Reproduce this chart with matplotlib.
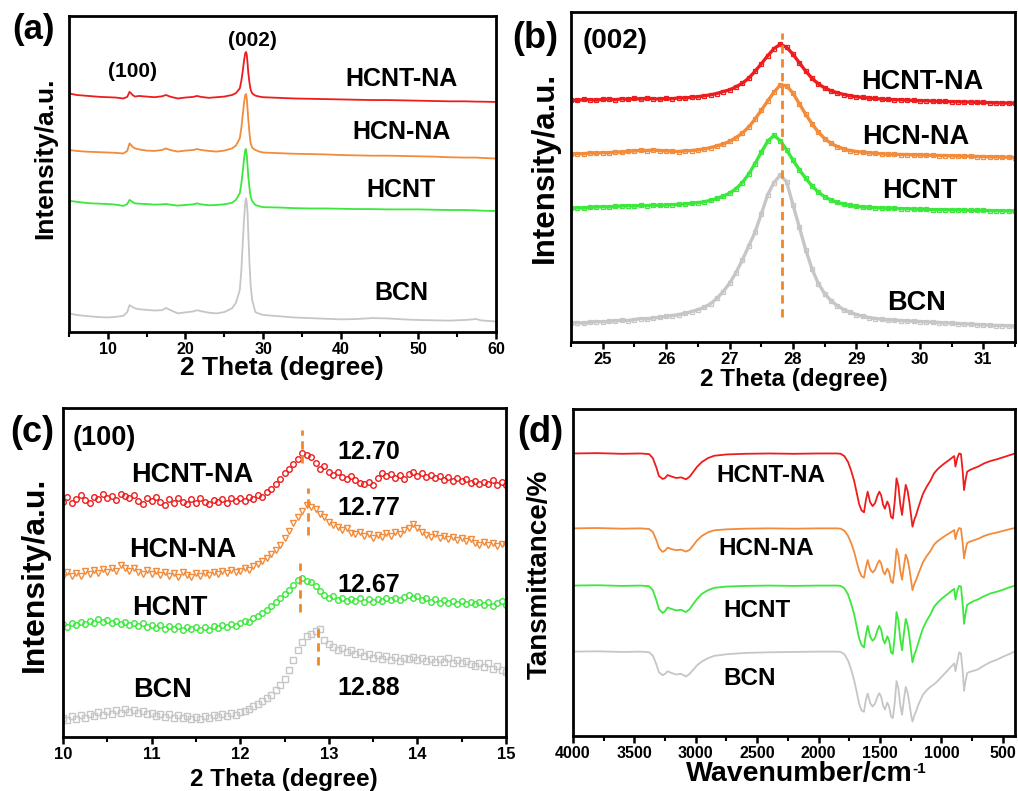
import matplotlib.pyplot as plt
from matplotlib.ticker import MultipleLocator

plt.rcParams['font.family'] = ['Liberation Sans', 'DejaVu Sans']
plt.rcParams['font.weight'] = 'bold'

W, H = 1018, 791
names = ["HCNT-NA", "HCN-NA", "HCNT", "BCN"]
colors = ["#ee1c1c", "#f28b3a", "#3be83b", "#c6c6c6"]
dash_color = "#f0882a"

# ---------------- (a) XRD wide scan ----------------
a_x = [5, 6, 7, 8, 9, 10, 11, 12, 12.5, 12.8, 13.2, 13.5, 14, 15, 16, 17, 17.5, 18, 19, 20,
       21, 21.5, 22, 23, 24, 25, 26, 26.5, 27, 27.2, 27.4, 27.55, 27.7, 27.8, 27.9, 28.0, 28.1,
       28.25, 28.4, 28.6, 29, 29.5, 30, 32, 34, 36, 38, 40, 42, 44, 46, 48, 50, 52, 54, 56, 57.5, 58, 60]
a_hcntna = [75.5, 75.0, 74.8, 74.6, 74.4, 74.3, 74.2, 73.9, 74.4, 76.0, 75.0, 74.5, 74.7, 74.5, 74.3, 74.6, 75.0, 74.5, 73.9, 74.2,
            74.4, 74.7, 74.4, 74.1, 74.3, 74.5, 75.0, 75.6, 77.1, 79.5, 82.9, 86.0, 88.2, 88.6, 87.7, 85.0, 81.9,
            78.8, 76.6, 75.5, 74.8, 74.5, 74.3, 74.1, 73.9, 73.8, 73.7, 73.6, 73.5, 73.4, 73.4, 73.3, 73.2, 73.1, 73.0, 73.0, 72.9, 72.9, 72.8]
a_hcnna = [57.6, 57.3, 57.1, 57.0, 56.9, 56.8, 56.7, 56.5, 57.3, 59.7, 58.6, 58.1, 57.8, 57.4, 57.3, 57.6, 58.1, 57.6, 57.1, 57.4,
           57.6, 57.9, 57.6, 57.3, 57.1, 57.4, 58.1, 59.0, 61.3, 64.6, 69.2, 72.6, 75.0, 75.3, 73.9, 70.5, 67.1,
           62.8, 59.7, 58.3, 57.6, 57.1, 56.8, 56.6, 56.4, 56.3, 56.2, 56.0, 55.9, 55.8, 55.8, 55.7, 55.6, 55.5, 55.3, 55.2, 55.2, 55.1, 54.9]
a_hcnt = [41.5, 41.2, 40.9, 40.7, 40.6, 40.5, 40.3, 39.9, 40.5, 41.8, 41.1, 40.7, 40.6, 40.5, 40.3, 40.4, 40.5, 40.3, 40.0, 40.2,
          40.4, 40.7, 40.4, 40.1, 40.2, 40.4, 40.9, 41.8, 43.9, 47.0, 51.3, 54.8, 57.6, 57.9, 56.0, 52.4, 49.1,
          45.5, 42.8, 41.4, 40.2, 39.8, 39.5, 39.4, 39.2, 39.1, 39.1, 39.0, 38.9, 38.9, 38.8, 38.8, 38.8, 38.7, 38.6, 38.6, 38.5, 38.4, 38.3]
a_bcn = [5.9, 5.4, 5.1, 4.9, 4.7, 4.6, 4.8, 5.1, 6.3, 8.5, 7.9, 7.5, 7.2, 7.0, 6.8, 6.9, 7.6, 7.0, 5.9, 6.2,
         6.5, 6.9, 6.6, 6.1, 5.9, 6.3, 7.5, 9.2, 13.3, 19.5, 29.1, 35.8, 40.7, 42.3, 41.0, 37.6, 31.0,
         21.7, 14.6, 10.1, 6.3, 5.8, 5.4, 5.0, 4.6, 4.4, 4.2, 4.0, 4.1, 4.4, 4.3, 4.0, 3.8, 3.7, 3.6, 3.8, 4.1, 3.7, 3.3]

# ---------------- (b) (002) zoom ----------------
b_x = [24.5 + 0.1 * i for i in range(71)]
b_hcntna = [73.3, 73.2, 73.5, 73.4, 73.3, 73.5, 73.6, 73.4, 73.7, 73.5, 73.8, 73.6, 73.9, 73.7, 73.6, 73.8, 73.7, 74.0, 73.9, 74.2,
            74.3, 74.6, 74.9, 75.3, 75.9, 76.4, 77.3, 78.4, 79.9, 82.0, 84.3, 86.7, 88.9, 90.2, 89.3, 87.2, 84.6, 82.1, 79.9, 78.2,
            77.0, 76.1, 75.5, 75.0, 74.6, 74.3, 74.1, 73.9, 73.8, 73.6, 73.5, 73.4, 73.4, 73.3, 73.2, 73.1, 73.1, 73.0, 72.9, 72.9,
            72.8, 72.8, 72.7, 72.7, 72.6, 72.6, 72.5, 72.5, 72.4, 72.4, 72.3]
b_hcnna = [56.9, 57.1, 57.0, 57.3, 57.2, 57.4, 57.3, 57.6, 57.5, 57.8, 57.9, 58.1, 58.0, 58.2, 58.0, 57.9, 57.8, 57.7, 57.9, 58.0,
           58.2, 58.5, 58.9, 59.4, 60.0, 60.8, 61.9, 63.3, 65.1, 67.5, 70.2, 73.0, 75.7, 77.9, 77.6, 75.4, 72.2, 69.0, 66.1, 63.6,
           61.6, 60.2, 59.2, 58.5, 58.0, 57.7, 57.5, 57.3, 57.2, 57.0, 56.9, 56.9, 56.8, 56.8, 56.7, 56.7, 56.6, 56.6, 56.5, 56.5,
           56.4, 56.4, 56.3, 56.3, 56.2, 56.2, 56.1, 56.1, 56.0, 56.0, 55.9]
b_hcnt = [40.5, 40.7, 40.6, 40.8, 40.9, 41.0, 40.9, 41.1, 41.2, 41.3, 41.2, 41.4, 41.3, 41.5, 41.4, 41.5, 41.6, 41.7, 41.8, 42.0,
          42.2, 42.5, 42.9, 43.5, 44.2, 45.1, 46.4, 48.3, 50.8, 54.0, 57.5, 60.8, 62.6, 61.0, 58.2, 55.1, 52.2, 49.6, 47.3, 45.4,
          44.0, 43.0, 42.3, 41.8, 41.4, 41.1, 40.9, 40.8, 40.7, 40.6, 40.5, 40.5, 40.4, 40.4, 40.3, 40.2, 40.2, 40.1, 40.1, 40.1,
          40.0, 40.0, 40.0, 39.9, 39.9, 39.9, 39.8, 39.8, 39.8, 39.7, 39.7]
b_bcn = [5.8, 5.9, 5.7, 6.0, 6.2, 6.1, 6.3, 6.4, 6.6, 6.5, 6.8, 7.1, 7.0, 7.3, 7.5, 7.8, 8.0, 8.3, 8.7, 9.2,
         9.8, 10.5, 11.6, 13.2, 15.3, 17.8, 21.0, 24.8, 29.0, 33.2, 38.8, 44.6, 48.3, 50.6, 48.5, 41.5, 34.8, 28.0, 22.1, 17.7,
         14.6, 12.5, 11.0, 9.8, 9.0, 8.3, 7.8, 7.4, 7.1, 6.9, 6.7, 6.6, 6.5, 6.4, 6.3, 6.2, 6.1, 6.0, 5.9, 5.8,
         5.7, 5.6, 5.5, 5.4, 5.3, 5.2, 5.1, 5.0, 5.0, 4.9, 4.8]
b_peak = 27.83

# ---------------- (c) (100) zoom ----------------
c_x = [10 + 0.05 * i for i in range(101)]
c_hcntna = [71.5, 72.8, 71.0, 72.3, 73.5, 72.0, 71.2, 73.0, 72.4, 73.8, 72.6, 73.4, 72.1, 74.0, 73.2, 72.5, 73.6, 71.8, 70.9, 72.7,
            71.6, 72.9, 71.3, 70.6, 72.2, 71.0, 72.5, 71.4, 70.8, 72.3, 71.1, 72.6, 71.5, 70.7, 72.0, 71.3, 72.4, 71.0, 72.6, 71.8,
            72.5, 71.6, 72.9, 72.2, 73.6, 73.1, 74.6, 75.4, 76.8, 78.5, 80.2, 81.5, 83.0, 84.4, 86.2, 85.7, 85.0, 83.2, 81.6, 82.3,
            80.6, 79.7, 80.4, 79.1, 78.4, 79.2, 78.0, 77.3, 76.8, 77.5, 76.6, 78.8, 80.1, 79.3, 79.8, 78.6, 79.5, 78.4, 79.9, 80.5,
            79.4, 80.2, 79.0, 79.6, 78.7, 79.3, 78.1, 78.9, 77.9, 78.6, 77.7, 78.3, 77.2, 77.9, 76.8, 77.6, 77.0, 78.0, 76.5, 77.4, 76.6]
c_hcnna = [48.6, 50.1, 49.0, 49.8, 48.9, 50.4, 49.6, 50.8, 49.9, 51.0, 50.2, 51.4, 50.5, 52.2, 51.3, 50.6, 51.5, 50.3, 49.4, 50.7,
           49.6, 50.4, 49.1, 50.2, 48.8, 49.7, 48.5, 50.3, 49.2, 48.6, 49.8, 48.9, 50.0, 49.3, 50.2, 49.5, 50.4, 49.8, 50.9, 50.1,
           50.6, 51.4, 50.8, 52.0, 52.6, 53.5, 54.4, 55.6, 56.7, 58.5, 60.4, 62.6, 65.0, 66.8, 68.7, 70.4, 70.0, 69.2, 67.8, 66.9,
           65.2, 64.4, 63.8, 62.9, 63.5, 62.1, 61.7, 62.4, 61.0, 61.8, 60.6, 61.4, 60.9, 61.9, 61.2, 62.3, 61.6, 62.8, 63.6, 64.6,
           63.5, 62.2, 61.4, 60.8, 61.6, 60.5, 61.2, 60.1, 60.9, 59.8, 60.4, 59.5, 60.2, 59.1, 58.5, 59.4, 58.3, 59.0, 58.1, 58.8, 58.4]
c_hcnt = [34.2, 33.5, 34.8, 33.9, 35.0, 34.3, 35.4, 34.6, 35.8, 34.9, 35.6, 34.7, 35.3, 34.4, 35.1, 34.0, 34.8, 33.6, 34.5, 33.3,
          34.1, 33.2, 34.0, 32.8, 33.7, 32.9, 33.8, 32.6, 33.5, 32.7, 33.4, 32.5, 33.3, 32.4, 33.6, 33.0, 33.9, 33.3, 34.3, 33.8,
          34.6, 35.2, 35.0, 36.1, 36.8, 37.7, 38.6, 39.9, 41.0, 42.1, 43.5, 44.6, 46.3, 47.8, 48.2, 47.4, 47.0, 45.8, 44.5, 43.2,
          42.4, 42.9, 41.6, 42.3, 41.2, 42.0, 41.4, 42.2, 41.0, 41.8, 40.9, 41.9, 41.3, 42.1, 41.5, 42.4, 41.7, 42.6, 43.3, 42.1,
          42.8, 41.6, 42.2, 41.1, 41.9, 40.8, 41.6, 40.7, 41.4, 40.5, 41.2, 40.3, 41.0, 40.4, 41.1, 40.2, 40.9, 39.9, 40.7, 41.3, 40.2]
c_bcn = [5.9, 5.2, 6.4, 5.5, 6.8, 5.8, 7.1, 6.3, 7.5, 6.6, 7.8, 7.0, 8.2, 7.4, 8.5, 7.6, 8.1, 7.2, 7.8, 6.9,
         7.4, 6.5, 7.1, 6.2, 6.9, 5.9, 6.7, 5.8, 6.5, 5.6, 6.2, 5.4, 6.3, 5.7, 6.6, 6.0, 6.9, 6.3, 7.2, 6.8,
         7.5, 8.0, 8.6, 9.3, 10.1, 11.0, 11.9, 12.9, 14.2, 15.8, 17.6, 20.4, 23.5, 26.3, 29.0, 30.8, 31.4, 32.2, 32.9, 29.5,
         28.2, 27.4, 26.5, 27.1, 25.8, 26.4, 25.2, 25.9, 24.6, 25.1, 24.0, 24.8, 23.7, 24.5, 23.4, 24.2, 23.1, 24.0, 23.6, 24.4,
         23.5, 24.1, 23.0, 23.8, 22.9, 23.7, 22.8, 23.9, 22.6, 23.3, 22.5, 23.1, 22.2, 21.5, 22.6, 21.3, 22.4, 20.8, 21.6, 20.4, 19.9]
c_peaks = [12.70, 12.77, 12.67, 12.88]
c_peak_labels = ["12.70", "12.77", "12.67", "12.88"]
c_dash_y = [(83.2, 93.3), (61.4, 75.7), (38.0, 52.9), (21.9, 34.0)]

# ---------------- (d) FTIR ----------------
d_x = [4000, 3800, 3600, 3450, 3380, 3350, 3320, 3300, 3270, 3250, 3230, 3200, 3160, 3120, 3080, 3050, 3020, 2990, 2950, 2900,
       2850, 2750, 2600, 2400, 2200, 2000, 1850, 1820, 1790, 1760, 1735, 1710, 1690, 1670, 1650, 1630, 1615, 1600, 1580, 1560,
       1540, 1520, 1505, 1490, 1475, 1460, 1440, 1425, 1410, 1395, 1380, 1365, 1350, 1335, 1320, 1305, 1290, 1275, 1260, 1245,
       1235, 1220, 1205, 1190, 1170, 1150, 1120, 1090, 1060, 1030, 1000, 970, 940, 910, 895, 885, 870, 855, 840, 825,
       815, 805, 790, 770, 740, 700, 650, 600, 550, 500, 450, 400]
d_hcntna = [86.4, 86.5, 86.3, 86.4, 86.2, 85.0, 82.0, 79.5, 78.6, 78.9, 79.8, 79.4, 78.9, 79.1, 78.5, 79.3, 80.8, 82.3, 83.8, 85.0,
            85.7, 86.1, 86.3, 86.4, 86.3, 86.4, 86.4, 86.3, 85.6, 83.8, 81.2, 78.0, 74.5, 71.0, 69.0, 68.4, 72.0, 74.7, 71.5, 70.3,
            71.2, 73.5, 74.7, 73.6, 70.8, 69.5, 71.7, 70.4, 67.0, 66.5, 71.5, 78.8, 76.5, 71.0, 67.6, 72.5, 76.8, 75.0, 71.5, 67.0,
            64.0, 66.2, 67.6, 69.5, 71.8, 74.0, 76.2, 78.0, 80.3, 81.6, 82.6, 83.5, 84.3, 85.2, 85.6, 82.4, 85.0, 86.4, 86.2, 80.5,
            75.2, 77.8, 80.8, 81.3, 81.8, 82.4, 83.4, 84.1, 84.6, 85.2, 85.8, 86.4]
d_hcnna = [63.5, 63.6, 63.4, 63.5, 63.3, 62.4, 59.8, 57.5, 56.3, 56.7, 57.6, 57.2, 56.8, 57.0, 56.4, 56.9, 58.3, 59.8, 61.2, 62.3,
           62.9, 63.2, 63.4, 63.5, 63.4, 63.5, 63.5, 63.4, 62.8, 61.2, 59.1, 56.3, 53.4, 50.6, 48.9, 48.4, 51.5, 53.8, 51.0, 50.0,
           50.8, 52.7, 53.7, 52.8, 50.4, 49.4, 51.2, 50.1, 47.3, 46.8, 51.0, 57.2, 55.3, 50.6, 47.8, 51.9, 55.5, 54.0, 51.0, 47.2,
           44.6, 46.5, 47.7, 49.3, 51.2, 53.1, 55.0, 56.5, 58.5, 59.6, 60.4, 61.2, 61.9, 62.6, 63.0, 60.2, 62.4, 63.6, 63.4, 58.6,
           54.3, 56.5, 59.0, 59.4, 59.8, 60.3, 61.2, 61.8, 62.2, 62.7, 63.2, 63.6]
d_hcnt = [46.0, 46.1, 45.9, 46.0, 45.8, 44.6, 41.4, 38.8, 37.6, 38.2, 39.3, 38.9, 38.4, 38.6, 37.9, 38.8, 40.4, 41.9, 43.5, 44.6,
          45.3, 45.7, 45.9, 46.0, 45.9, 46.0, 46.0, 45.9, 45.2, 43.3, 40.5, 37.2, 33.5, 29.9, 27.8, 27.1, 30.9, 33.7, 30.4, 29.1,
          30.0, 32.4, 33.7, 32.5, 29.6, 28.3, 30.5, 29.2, 25.6, 25.1, 30.3, 37.9, 35.5, 29.8, 26.2, 31.3, 35.8, 34.0, 30.3, 25.6,
          22.5, 24.8, 26.3, 28.2, 30.6, 32.9, 35.2, 37.1, 39.5, 40.8, 41.9, 42.8, 43.7, 44.6, 45.0, 41.7, 44.4, 45.9, 45.7, 39.8,
          34.3, 37.0, 40.1, 40.6, 41.2, 41.8, 42.8, 43.6, 44.1, 44.7, 45.4, 46.0]
d_bcn = [25.8, 25.9, 25.7, 25.8, 25.6, 24.6, 21.8, 19.5, 18.6, 19.0, 19.8, 19.3, 18.8, 19.0, 18.2, 19.0, 20.3, 21.6, 22.8, 23.8,
         24.5, 25.0, 25.4, 25.6, 25.7, 25.8, 25.8, 25.7, 25.0, 23.1, 20.4, 17.0, 13.6, 9.9, 7.8, 7.4, 11.0, 13.0, 10.1, 9.0,
         9.9, 12.0, 13.1, 12.0, 9.4, 8.1, 10.2, 9.0, 5.9, 5.5, 10.0, 16.8, 14.6, 9.6, 6.5, 11.2, 15.0, 13.3, 10.0, 6.1,
         4.4, 6.3, 7.6, 9.3, 11.0, 12.6, 14.0, 15.0, 15.8, 16.8, 18.0, 19.2, 20.4, 21.6, 22.2, 19.8, 22.8, 25.6, 25.2, 19.5,
         13.8, 16.4, 19.2, 19.6, 19.9, 20.4, 21.6, 22.6, 23.3, 24.2, 25.0, 25.9]


def box(l, r, t, b):
    return [l / W, 1 - b / H, (r - l) / W, (b - t) / H]


def ftxt(x, y, s, size, rot=0, ha='center', va='center'):
    return fig.text(x / W, 1 - y / H, s, fontsize=size, fontweight='bold', rotation=rot,
                    ha=ha, va=va)


def style(ax, major, minor, size=12):
    ax.set_yticks([])
    ax.set_ylim(0, 100)
    for sp in ax.spines.values():
        sp.set_linewidth(2)
    ax.xaxis.set_major_locator(MultipleLocator(major))
    ax.xaxis.set_minor_locator(MultipleLocator(minor))
    ax.tick_params(axis='x', which='major', direction='out', length=5, width=1.8, labelsize=size, pad=2)
    ax.tick_params(axis='x', which='minor', direction='out', length=3.5, width=1.5)
    for lab in ax.get_xticklabels():
        lab.set_fontweight('bold')


fig = plt.figure(figsize=(W / 100, H / 100), dpi=100)

# (a)
ax = fig.add_axes(box(69, 496, 16, 332))
for ys, c in zip([a_hcntna, a_hcnna, a_hcnt, a_bcn], colors):
    ax.plot(a_x, ys, color=c, lw=1.3)
ax.set_xlim(5, 60)
style(ax, 10, 5, size=11.5)
ax.text(13.2, 82.3, "(100)", fontsize=15, fontweight='bold', ha='center', va='center')
ax.text(28.6, 92.1, "(002)", fontsize=15, fontweight='bold', ha='center', va='center')
for s, y in zip(names, [80.1, 63.3, 44.9, 12.3]):
    ax.text(47.8, y, s, fontsize=18, fontweight='bold', ha='center', va='center')
ftxt(34, 30, "(a)", 25)
ftxt(45, 158, "Intensity/a.u.", 19, 90)
ftxt(282, 356, "2 Theta (degree)", 19, va='top')

# (b)
ax = fig.add_axes(box(571, 1015, 12, 342))
for ys, c in zip([b_hcntna, b_hcnna, b_hcnt, b_bcn], colors):
    ax.plot(b_x, ys, color=c, lw=2.4, marker='s', markersize=3.5, markerfacecolor='none', markeredgewidth=0.9)
ax.plot([b_peak, b_peak], [7.7, 93.6], color=dash_color, lw=2, ls=(0, (3, 2)))
ax.set_xlim(24.5, 31.5)
style(ax, 1, 0.5)
ax.text(25.19, 91.2, "(002)", fontsize=20, fontweight='bold', ha='center', va='center')
for s, x, y in zip(names, [30.03, 29.93, 30.0, 29.95], [78.9, 62.2, 45.9, 11.7]):
    ax.text(x, y, s, fontsize=19.5, fontweight='bold', ha='center', va='center')
ftxt(535, 38, "(b)", 26)
ftxt(545, 167, "Intensity/a.u.", 22.5, 90)
ftxt(794, 368, "2 Theta (degree)", 17.5, va='top')

# (c)
ax = fig.add_axes(box(63, 506, 408, 737))
for ys, c, m in zip([c_hcntna, c_hcnna, c_hcnt, c_bcn], colors, ['o', 'v', 'o', 's']):
    ax.plot(c_x, ys, color=c, lw=0, marker=m, markersize=4, markerfacecolor='none', markeredgewidth=1.0)
for px, (y0, y1) in zip(c_peaks, c_dash_y):
    ax.plot([px, px], [y0, y1], color=dash_color, lw=2, ls=(0, (3, 2)))
ax.set_xlim(10, 15)
style(ax, 1, 0.5)
ax.text(10.47, 90.9, "(100)", fontsize=19.5, fontweight='bold', ha='center', va='center')
for s, y in zip(c_peak_labels, [86.6, 69.6, 46.2, 14.9]):
    ax.text(13.45, y, s, fontsize=18, fontweight='bold', ha='center', va='center')
for s, x, y in zip(names, [11.46, 11.35, 11.2, 11.12], [79.6, 56.8, 39.2, 14.3]):
    ax.text(x, y, s, fontsize=19.5, fontweight='bold', ha='center', va='center')
ftxt(32, 432, "(c)", 26)
ftxt(35, 574, "Intensity/a.u.", 23, 90)
ftxt(284, 768, "2 Theta (degree)", 17.5, va='top')

# (d)
ax = fig.add_axes(box(573, 1015, 409, 736))
for ys, c in zip([d_hcntna, d_hcnna, d_hcnt, d_bcn], colors):
    ax.plot(d_x, ys, color=c, lw=1.3)
ax.set_xlim(4000, 400)
style(ax, 500, 250, size=11.5)
for s, x, y in zip(names, [2386, 2427, 2500, 2562], [79.8, 57.4, 38.5, 17.6]):
    ax.text(x, y, s, fontsize=17.5, fontweight='bold', ha='center', va='center')
ftxt(540, 433, "(d)", 26)
ftxt(540, 574, "Tansmittance/%", 20, 90)
t = ftxt(686, 761, "Wavenumber/cm", 20.5, ha='left', va='top')
ax.annotate("-1", xy=(1.0, 0.97), xycoords=t, fontsize=11, fontweight='bold',
            ha='left', va='top', annotation_clip=False)

plt.savefig("out.png", dpi=100)
